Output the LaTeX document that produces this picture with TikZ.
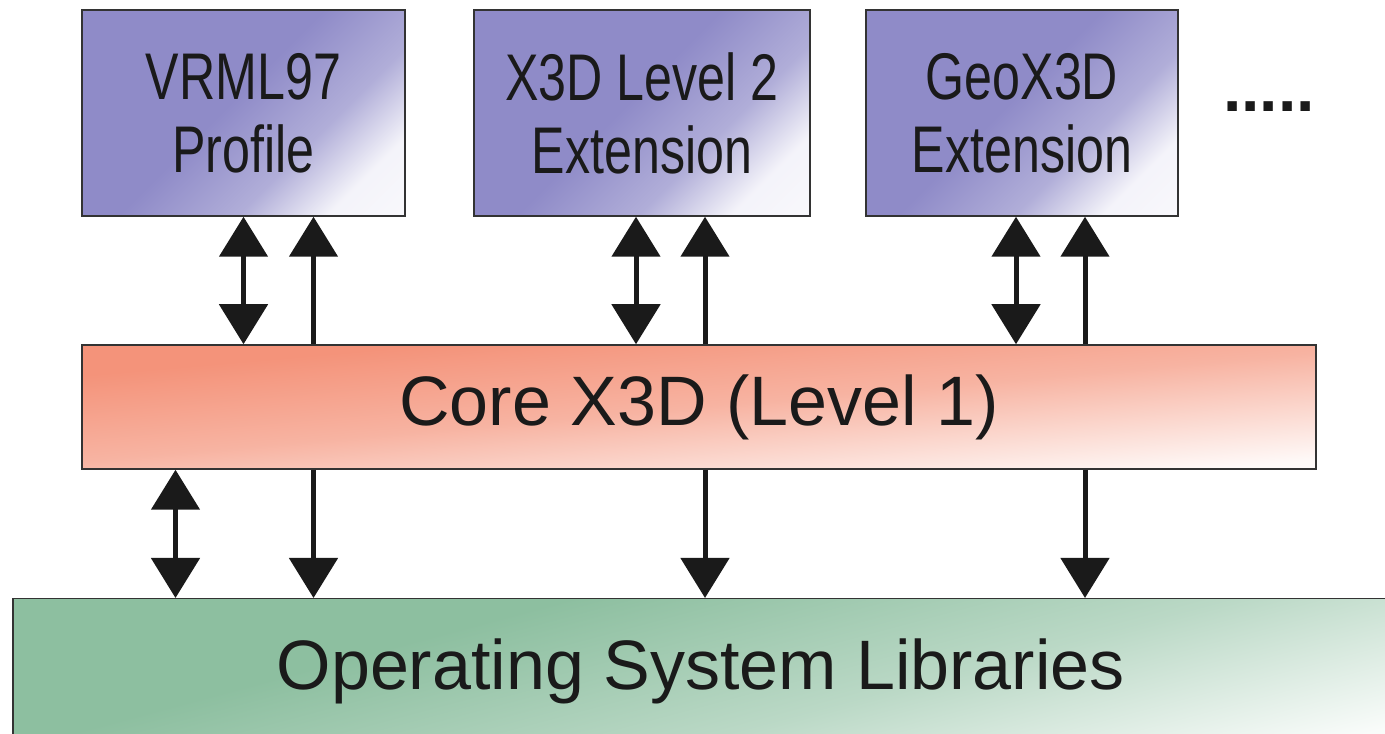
\documentclass[tikz,border=0pt]{standalone}
\usepackage{fontspec}
\setmainfont{Liberation Sans}
\newfontfamily\narrowsf{Liberation Sans}[FakeStretch=0.76]
\usetikzlibrary{arrows.meta,positioning,calc}
\definecolor{lavender}{HTML}{8F8BC8}
\definecolor{salmon}{HTML}{F4937A}
\definecolor{sage}{HTML}{8DBFA0}
\definecolor{edge}{HTML}{333333}
\definecolor{ink}{HTML}{1A1A1A}

% fades towards white at the far end
\pgfdeclarehorizontalshading{lavfade}{100bp}{color(0bp)=(lavender); color(47bp)=(lavender); color(63bp)=(lavender!70!white); color(75bp)=(lavender!10!white); color(100bp)=(white)}
\pgfdeclarehorizontalshading{salfade}{100bp}{color(0bp)=(salmon); color(30bp)=(salmon); color(50bp)=(salmon!70!white); color(75bp)=(salmon!5!white); color(100bp)=(white)}
\pgfdeclarehorizontalshading{sagefade}{100bp}{color(0bp)=(sage); color(36bp)=(sage); color(56bp)=(sage!60!white); color(75bp)=(sage!5!white); color(100bp)=(white)}

\begin{document}
\begin{tikzpicture}[x=1pt,y=1pt,>=Latex,
  module/.style={draw=edge,line width=1.5pt,shade,shading=lavfade,shading angle=-45,
    minimum height=206,align=center,text=ink,font=\narrowsf\fontsize{66}{73}\selectfont},
  layer/.style={draw=edge,line width=1.5pt,shade,text=ink,font=\fontsize{70}{74}\selectfont},
  link/.style={draw=ink,line width=5pt,-{Triangle[width=48pt,length=40pt]}},
  twoway/.style={draw=ink,line width=5pt,{Triangle[width=48pt,length=40pt]}-{Triangle[width=48pt,length=40pt]}}]
\useasboundingbox (0,0) rectangle (1385,734);

% extensions on top
\node[module,minimum width=323] (vrml) at (243.5,621) {VRML97\\Profile};
\node[module,minimum width=336] (level2) at (642,621) {X3D Level 2\\Extension};
\node[module,minimum width=312] (geo) at (1022,621) {GeoX3D\\Extension};
\node[anchor=base,text=ink,font=\bfseries\fontsize{66}{72}\selectfont] (more) at (1269,622) {.....};

% core and OS layers
\node[layer,shading=salfade,shading angle=-85,minimum width=1234,minimum height=124] (core) at (699,327) {Core X3D (Level 1)};
\node[layer,shading=sagefade,shading angle=-75,anchor=north west,minimum width=1376,minimum height=180,
  text height=50,text depth=48] (os) at (12,136) {Operating System Libraries};

\foreach \m/\dx/\ux in {vrml/0/70,level2/-6/63,geo/-6/63}{
  \draw[twoway] ([xshift=\dx]\m.south) -- ([xshift=\dx]\m.south |- core.north);
  \draw[link] ([xshift=\ux]\m.south |- core.north) -- ([xshift=\ux]\m.south);
  \draw[link] ([xshift=\ux]\m.south |- core.south) -- ([xshift=\ux]\m.south |- os.north);
}
\draw[twoway] ([xshift=-68]vrml.south |- core.south) -- ([xshift=-68]vrml.south |- os.north);
\end{tikzpicture}
\end{document}
